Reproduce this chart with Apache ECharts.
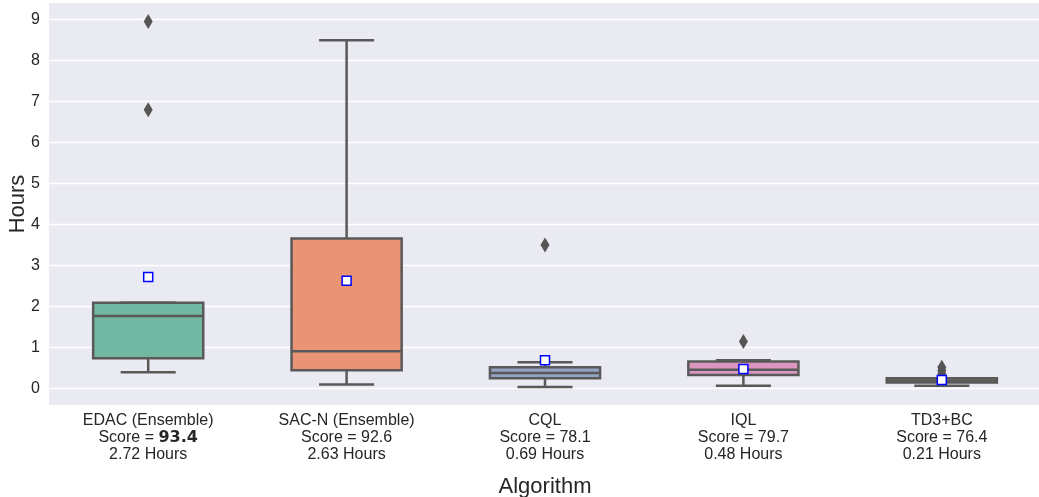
<!DOCTYPE html>
<html>
<head>
<meta charset="utf-8">
<script src="https://cdn.jsdelivr.net/npm/echarts@6/dist/echarts.min.js"></script>
<style>html,body{margin:0;padding:0;background:#fff;}#chart{width:1039px;height:497px;}</style>
</head>
<body>
<div id="chart"></div>
<script>
const categories = ['EDAC (Ensemble)', 'SAC-N (Ensemble)', 'CQL', 'IQL', 'TD3+BC'];
const scores = ['93.4', '92.6', '78.1', '79.7', '76.4'];
const boldScoreIndex = 0;
const meanHours = [2.72, 2.63, 0.69, 0.48, 0.21];
const whiskerLow = [0.40, 0.10, 0.04, 0.07, 0.07];
const q1 = [0.74, 0.45, 0.25, 0.33, 0.15];
const median = [1.77, 0.91, 0.38, 0.46, 0.20];
const q3 = [2.09, 3.66, 0.52, 0.66, 0.25];
const whiskerHigh = [2.09, 8.49, 0.64, 0.69, 0.25];
const outliers = [[6.80, 8.95], [], [3.50], [1.15], [0.36, 0.44, 0.52]];

const palette = ['#71b7a1', '#e99575', '#95a3c3', '#db96c0', '#a2c864'];
const lineColor = '#595959';
const textColor = '#262626';
const fontFamily = '"Liberation Sans", Arial, sans-serif';

const boxData = categories.map((c, i) => [i, whiskerLow[i], q1[i], median[i], q3[i], whiskerHigh[i]]);
const outlierData = [];
outliers.forEach((arr, i) => arr.forEach(v => outlierData.push([i, v])));
const meanData = meanHours.map((v, i) => [i, v]);

function renderBox(params, api) {
  const i = api.value(0);
  const lo = api.coord([i, api.value(1)]);
  const b1 = api.coord([i, api.value(2)]);
  const md = api.coord([i, api.value(3)]);
  const b3 = api.coord([i, api.value(4)]);
  const hi = api.coord([i, api.value(5)]);
  const band = api.size([1, 0])[0];
  const w = band * 0.555;
  const cw = w / 2;
  const cx = lo[0];
  const ls = { stroke: lineColor, lineWidth: 2.5 };
  return {
    type: 'group',
    children: [
      { type: 'line', shape: { x1: cx, y1: b3[1], x2: cx, y2: hi[1] }, style: ls },
      { type: 'line', shape: { x1: cx, y1: b1[1], x2: cx, y2: lo[1] }, style: ls },
      { type: 'line', shape: { x1: cx - cw / 2, y1: hi[1], x2: cx + cw / 2, y2: hi[1] }, style: ls },
      { type: 'line', shape: { x1: cx - cw / 2, y1: lo[1], x2: cx + cw / 2, y2: lo[1] }, style: ls },
      { type: 'rect', shape: { x: cx - w / 2, y: b3[1], width: w, height: b1[1] - b3[1] },
        style: { fill: palette[params.dataIndex], stroke: lineColor, lineWidth: 2.5 } },
      { type: 'line', shape: { x1: cx - w / 2, y1: md[1], x2: cx + w / 2, y2: md[1] }, style: ls }
    ]
  };
}

const chart = echarts.init(document.getElementById('chart'), null, { renderer: 'canvas' });
chart.setOption({
  animation: false,
  backgroundColor: '#ffffff',
  grid: { left: 49, right: -2, top: 3, bottom: 92, show: true, backgroundColor: '#eaeaf2', borderWidth: 0,
          containLabel: false, outerBoundsMode: 'none' },
  xAxis: {
    type: 'category',
    data: categories,
    name: 'Algorithm',
    nameLocation: 'middle',
    nameGap: 71,
    nameMoveOverlap: false,
    nameTextStyle: { fontSize: 22, color: textColor, fontFamily: fontFamily },
    axisLine: { show: false },
    axisTick: { show: false },
    splitLine: { show: false },
    axisLabel: {
      interval: 0,
      margin: 7,
      formatter: function (value, idx) {
        const scoreLine = idx === boldScoreIndex
          ? '{t|Score = }{b|' + scores[idx] + '}'
          : '{t|Score = ' + scores[idx] + '}';
        return '{t|' + value + '}\n' + scoreLine + '\n{t|' + meanHours[idx].toFixed(2) + ' Hours}';
      },
      rich: {
        t: { fontSize: 16, lineHeight: 17, color: textColor, fontFamily: fontFamily },
        b: { fontSize: 16, lineHeight: 17, color: textColor, fontFamily: '"DejaVu Sans", sans-serif', fontWeight: 'bold' }
      }
    }
  },
  yAxis: {
    type: 'value',
    min: -0.4,
    max: 9.4,
    splitNumber: 10,
    minInterval: 1,
    maxInterval: 1,
    name: 'Hours',
    nameLocation: 'middle',
    nameGap: 20,
    nameMoveOverlap: false,
    nameTextStyle: { fontSize: 22, color: textColor, fontFamily: fontFamily },
    axisLine: { show: false },
    axisTick: { show: false },
    axisLabel: { showMinLabel: false, showMaxLabel: false, margin: 9, fontSize: 16, color: textColor, fontFamily: fontFamily },
    splitLine: { show: true, showMinLine: false, showMaxLine: false, lineStyle: { color: '#ffffff', width: 1.3 } }
  },
  series: [
    { type: 'custom', renderItem: renderBox, data: boxData, encode: { x: 0, y: [1, 2, 3, 4, 5] }, z: 2 },
    { type: 'scatter', data: outlierData, symbol: 'diamond', symbolSize: [9, 15],
      itemStyle: { color: '#555555', opacity: 1 }, z: 3 },
    { type: 'scatter', data: meanData, symbol: 'rect', symbolSize: 9,
      itemStyle: { color: '#ffffff', borderColor: '#0000ff', borderWidth: 1.5, opacity: 1 }, z: 4 }
  ]
});
</script>
</body>
</html>
